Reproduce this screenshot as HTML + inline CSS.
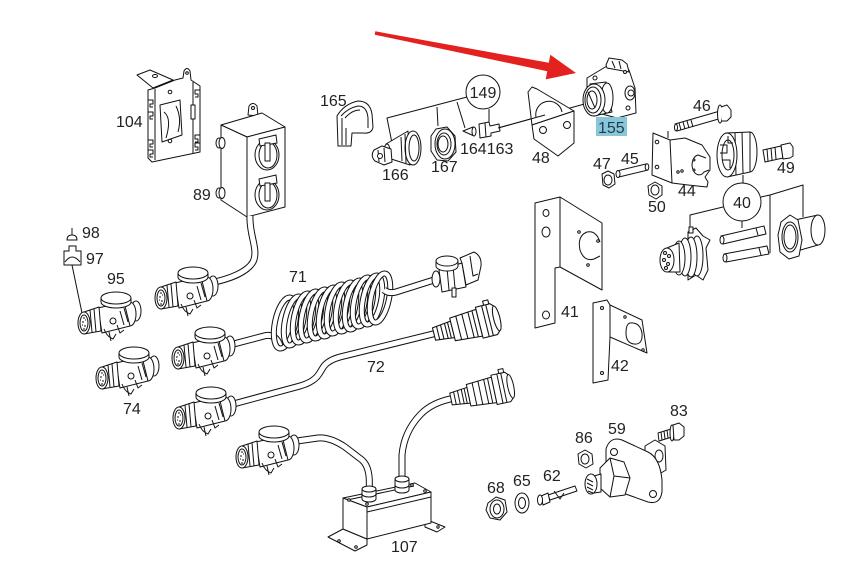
<!DOCTYPE html>
<html><head><meta charset="utf-8"><style>
html,body{margin:0;padding:0;background:#fff;}
svg{display:block;}
text{font-family:"Liberation Sans",sans-serif;font-size:16px;fill:#222;}
</style></head><body>
<svg width="857" height="565" viewBox="0 0 857 565" xmlns="http://www.w3.org/2000/svg">
<defs>
<g id="plug" stroke="#111" stroke-width="1" fill="#fff" stroke-linejoin="round">
  <ellipse cx="52" cy="-12" rx="5" ry="10"/>
  <ellipse cx="46" cy="-9" rx="6" ry="12"/>
  <path d="M14,-15 L40,-21 L46,3 L18,10 Z"/>
  <path d="M36,-12 l4,14 M40,-15 l4,14" fill="none"/>
  <path d="M17,-25 L17,-21 A15,6 0 0 0 47,-21 L47,-25"/>
  <ellipse cx="32" cy="-25" rx="15" ry="6"/>
  <path d="M0,-11 L15,-16 L17,8 L0,11 Z"/>
  <path d="M6,-13 L8,9 M10,-14 L12,9" fill="none"/>
  <circle cx="29" cy="-2" r="3"/>
  <path d="M20,6 q3,8 9,10 l3,-5 M25,9 l2,9 M33,2 l3,8 l4,-3" fill="none"/>
  <ellipse cx="0" cy="0" rx="6" ry="11"/>
  <ellipse cx="0" cy="0" rx="4" ry="8"/>
  <path d="M-1,-5h2M-2,-1h2M0,3h2M1,-3h1M-1,6h2M-2,2h1" fill="none"/>
</g>
<g id="rplug" stroke="#111" stroke-width="1" fill="#fff" stroke-linejoin="round">
  <path d="M0,-6 L18,-8 L18,8 L0,6 Z"/>
  <path d="M4,-6.5v13M8,-7v14M12,-7.5v15M15,-7.5v15" fill="none"/>
  <path d="M18,-11 L44,-13 L44,13 L18,11 Z"/>
  <path d="M24,-11.5v23M30,-12v24M36,-12.5v25M40,-12.5v25" fill="none"/>
  <path d="M44,-15 L58,-15 L61,-12 L61,12 L58,15 L44,15 Z"/>
  <path d="M50,-15v30M54,-15v30" fill="none"/>
  <rect x="52" y="-19" width="5" height="4"/>
  <ellipse cx="61" cy="0" rx="3" ry="12"/>
</g>
</defs>

<!-- ===== Red arrow ===== -->
<polygon points="375.3,31.3 548.8,62.8 550.3,54.8 576,73 545.7,79.4 547.2,71.2 374.7,34.7" fill="#e3221f"/>

<!-- ===== Bracket 104 ===== -->
<g fill="#fff" stroke="#111" stroke-width="1" stroke-linejoin="round">
  <path d="M148,90 L155,88 L175,80 L183,78 L184,71 Q187,66 190,71 L191,80 L200,86 L200,152 L152,162 L148,158 Z"/>
  <path d="M137,75 L150,70 L173,80 L153,88 Z"/>
  <ellipse cx="155" cy="76" rx="2.5" ry="1.5"/>
  <circle cx="187" cy="73" r="1.3"/>
  <path d="M155,89 L155,160 M193,82 L193,153" fill="none"/>
  <path d="M148,100 h5 v4 h-3 v3 h3 M148,112 h5 v4 h-3 v3 h3 M148,140 h5 v4 h-3 v3 h3 M148,150 h5 v4 h-3 v3 h3" fill="none"/>
  <path d="M200,90 h-5 v4 h3 v3 h-3 M200,135 h-5 v4 h3 v3 h-3 M200,143 h-5 v4 h3 v3 h-3" fill="none"/>
  <rect x="191" y="105" width="4" height="14"/>
  <path d="M160,105 L180,100 L182,135 L162,142 Z"/>
  <path d="M164,112 Q172,118 166,138 M176,106 Q182,118 178,132" fill="none"/>
  <circle cx="170" cy="92" r="1.8"/>
  <circle cx="170" cy="141" r="1.8"/>
</g>

<!-- ===== Box 89 ===== -->
<g fill="#fff" stroke="#111" stroke-width="1" stroke-linejoin="round">
  <path d="M248,115 L249,106 Q253,101 257,106 L258,116 Z"/>
  <circle cx="253" cy="108" r="1.5"/>
  <path d="M221,125 L262,113 L285,127 L247,137 Z"/>
  <path d="M221,125 L247,137 L247,217 L221,200 Z"/>
  <path d="M247,137 L285,127 L285,207 L247,217 Z"/>
  <ellipse cx="219" cy="143" rx="3" ry="5"/>
  <ellipse cx="222" cy="143" rx="3" ry="5.5"/>
  <ellipse cx="219" cy="193" rx="3" ry="5"/>
  <ellipse cx="222" cy="193" rx="3" ry="5.5"/>
  <ellipse cx="267" cy="155" rx="12" ry="15"/>
  <ellipse cx="268" cy="155" rx="9" ry="13"/>
  <path d="M259,139 L276,135 L277,143 L260,146 Z"/>
  <rect x="265" y="143" width="5" height="18"/>
  <ellipse cx="267" cy="195" rx="12" ry="15"/>
  <ellipse cx="268" cy="195" rx="9" ry="13"/>
  <path d="M259,179 L276,175 L277,183 L260,186 Z"/>
  <rect x="265" y="183" width="5" height="18"/>
</g>

<!-- ===== Cables ===== -->
<g fill="none" stroke-linecap="butt" stroke-linejoin="round">
  <path id="c89" d="M250,216 C249,235 259,250 253,262 C247,272 230,279 210,283" stroke="#111" stroke-width="7"/>
  <path d="M250,216 C249,235 259,250 253,262 C247,272 230,279 210,283" stroke="#fff" stroke-width="5"/>
  <path d="M226,346 L264,336 Q276,333 280,346" stroke="#111" stroke-width="7"/>
  <path d="M226,346 L264,336 Q276,333 280,346" stroke="#fff" stroke-width="5"/>
  <path d="M226,406 L300,386 Q314,382 319,374 L324,366 Q329,360 340,357 L437,333" stroke="#111" stroke-width="7"/>
  <path d="M226,406 L300,386 Q314,382 319,374 L324,366 Q329,360 340,357 L437,333" stroke="#fff" stroke-width="5"/>
  <path d="M290,442 L318,438 Q330,437 345,447 L362,460 Q371,468 369,490" stroke="#111" stroke-width="7"/>
  <path d="M290,442 L318,438 Q330,437 345,447 L362,460 Q371,468 369,490" stroke="#fff" stroke-width="5"/>
  <path d="M402,486 L402,455 Q404,432 420,415 Q432,402 455,398" stroke="#111" stroke-width="7"/>
  <path d="M402,486 L402,455 Q404,432 420,415 Q432,402 455,398" stroke="#fff" stroke-width="5"/>
</g>

<!-- ===== Coil 71 ===== -->
<g fill="none">
  <g stroke="#111" stroke-width="6"><ellipse cx="285" cy="323" rx="10" ry="26" transform="rotate(12 285 323)"/></g>
  <g stroke="#fff" stroke-width="4"><ellipse cx="285" cy="323" rx="10" ry="26" transform="rotate(12 285 323)"/></g>
  <ellipse cx="294" cy="321" rx="9" ry="25" transform="rotate(12 294 321)" stroke="#111" stroke-width="6"/>
  <ellipse cx="294" cy="321" rx="9" ry="25" transform="rotate(12 294 321)" stroke="#fff" stroke-width="4"/>
  <ellipse cx="303" cy="318" rx="9" ry="25" transform="rotate(12 303 318)" stroke="#111" stroke-width="6"/>
  <ellipse cx="303" cy="318" rx="9" ry="25" transform="rotate(12 303 318)" stroke="#fff" stroke-width="4"/>
  <ellipse cx="311" cy="316" rx="9" ry="25" transform="rotate(12 311 316)" stroke="#111" stroke-width="6"/>
  <ellipse cx="311" cy="316" rx="9" ry="25" transform="rotate(12 311 316)" stroke="#fff" stroke-width="4"/>
  <ellipse cx="320" cy="314" rx="9" ry="25" transform="rotate(12 320 314)" stroke="#111" stroke-width="6"/>
  <ellipse cx="320" cy="314" rx="9" ry="25" transform="rotate(12 320 314)" stroke="#fff" stroke-width="4"/>
  <ellipse cx="329" cy="312" rx="9" ry="25" transform="rotate(12 329 312)" stroke="#111" stroke-width="6"/>
  <ellipse cx="329" cy="312" rx="9" ry="25" transform="rotate(12 329 312)" stroke="#fff" stroke-width="4"/>
  <ellipse cx="337" cy="309" rx="9" ry="25" transform="rotate(12 337 309)" stroke="#111" stroke-width="6"/>
  <ellipse cx="337" cy="309" rx="9" ry="25" transform="rotate(12 337 309)" stroke="#fff" stroke-width="4"/>
  <ellipse cx="346" cy="307" rx="9" ry="25" transform="rotate(12 346 307)" stroke="#111" stroke-width="6"/>
  <ellipse cx="346" cy="307" rx="9" ry="25" transform="rotate(12 346 307)" stroke="#fff" stroke-width="4"/>
  <ellipse cx="355" cy="305" rx="9" ry="25" transform="rotate(12 355 305)" stroke="#111" stroke-width="6"/>
  <ellipse cx="355" cy="305" rx="9" ry="25" transform="rotate(12 355 305)" stroke="#fff" stroke-width="4"/>
  <ellipse cx="363" cy="302" rx="9" ry="25" transform="rotate(12 363 302)" stroke="#111" stroke-width="6"/>
  <ellipse cx="363" cy="302" rx="9" ry="25" transform="rotate(12 363 302)" stroke="#fff" stroke-width="4"/>
  <ellipse cx="372" cy="300" rx="9" ry="25" transform="rotate(12 372 300)" stroke="#111" stroke-width="6"/>
  <ellipse cx="372" cy="300" rx="9" ry="25" transform="rotate(12 372 300)" stroke="#fff" stroke-width="4"/>
  <ellipse cx="380" cy="298" rx="9" ry="25" transform="rotate(12 380 298)" stroke="#111" stroke-width="6"/>
  <ellipse cx="380" cy="298" rx="9" ry="25" transform="rotate(12 380 298)" stroke="#fff" stroke-width="4"/>
  <path d="M384,290 Q389,294 396,292 L434,280" stroke="#111" stroke-width="7"/>
  <path d="M384,290 Q389,294 396,292 L434,280" stroke="#fff" stroke-width="5"/>
</g>

<!-- ===== Plugs ===== -->
<use href="#plug" transform="translate(84,323)"/>
<use href="#plug" transform="translate(102,378)"/>
<use href="#plug" transform="translate(161,298)"/>
<use href="#plug" transform="translate(178,358)"/>
<use href="#plug" transform="translate(179,418)"/>
<use href="#plug" transform="translate(242,457)"/>

<!-- plug 71 right -->
<g fill="#fff" stroke="#111" stroke-width="1" stroke-linejoin="round">
  <ellipse cx="436" cy="279" rx="4" ry="8"/>
  <path d="M439,270 L462,263 L466,287 L442,292 Z"/>
  <path d="M447,268 l2,22 M453,266 l2,22" fill="none"/>
  <path d="M460,258 L474,252 Q482,256 481,266 L478,280 L466,285 L462,263 Z"/>
  <path d="M470,256 l3,20 l5,-2" fill="none"/>
  <path d="M436,261 L436,266 A11,5 0 0 0 458,266 L458,261"/>
  <ellipse cx="447" cy="261" rx="11" ry="5"/>
  <rect x="452" y="288" width="4" height="9"/>
</g>

<!-- plug 72 right & 107 right -->
<use href="#rplug" transform="translate(434,334) rotate(-14) scale(1.06)"/>
<use href="#rplug" transform="translate(451,399) rotate(-12) scale(1.0)"/>

<!-- ===== Box 107 ===== -->
<g fill="#fff" stroke="#111" stroke-width="1" stroke-linejoin="round">
  <path d="M328,537 L343,529 L367,539 L367,545 L355,551 Z"/>
  <path d="M425,519 L445,527 L437,532 L425,527 Z"/>
  <path d="M343,498 L415,483 L431,492 L367,507 Z"/>
  <path d="M343,498 L367,507 L367,539 L343,529 Z"/>
  <path d="M367,507 L431,492 L431,523 L367,539 Z"/>
  <path d="M347,500 L414,486 M367,512 L431,497" fill="none"/>
  <circle cx="349" cy="500" r="1.3"/><circle cx="367" cy="504" r="1.3"/><circle cx="425" cy="491" r="1.3"/><circle cx="412" cy="485" r="1.3"/>
  <circle cx="339" cy="541" r="1.3"/><circle cx="356" cy="547" r="1.3"/><circle cx="438" cy="527" r="1.2"/>
  <path d="M362,489 L362,499 A7,3 0 0 0 376,499 L376,489"/>
  <ellipse cx="369" cy="489" rx="7" ry="3"/>
  <path d="M362,494 A7,3 0 0 0 376,494" fill="none"/>
  <path d="M395,479 L395,490 A7,3 0 0 0 409,490 L409,479"/>
  <ellipse cx="402" cy="479" rx="7" ry="3"/>
  <path d="M395,485 A7,3 0 0 0 409,485" fill="none"/>
</g>

<!-- ===== 98 / 97 ===== -->
<g fill="#fff" stroke="#111" stroke-width="1">
  <path d="M72,228 L72,235 M67,240 Q67,235 72,235 Q77,235 77,240 Z"/>
  <path d="M64,251 L69,251 L69,246 L76,246 L76,251 L81,251 L81,265 L64,265 Z"/>
  <path d="M65,262 Q72,252 80,262" fill="none"/>
  <path d="M72,265 L82,313" fill="none"/>
</g>

<!-- ===== 165 / 166 / 167 / 164 / 163 / 149 ===== -->
<g fill="#fff" stroke="#111" stroke-width="1" stroke-linejoin="round">
  <path d="M338,146 L337,116 Q344,104 358,101 Q370,101 372,114 L373,127 Q372,134 363,133 L352,133 L351,146 Z"/>
  <path d="M341,116 Q348,108 358,106 Q367,106 368,118 L368,128" fill="none"/>
  <path d="M345,118 Q352,110 360,110 M346,128 L346,145 M342,118 L342,145" fill="none"/>
  <!-- leaders -->
  <path d="M467,97 L387,118 L392,143 M437,107 L438,126 M457,102 L465,128 M489,109 L489,122" fill="none"/>
  <path d="M498,128 L588,103" fill="none"/>
  <!-- 166 -->
  <path d="M386,144 L408,131 L410,165 L388,158 Z"/>
  <ellipse cx="413" cy="148" rx="8" ry="17"/>
  <ellipse cx="414" cy="148" rx="5" ry="13"/>
  <path d="M405,134 L406,163 M401,137 L402,161" fill="none"/>
  <ellipse cx="387" cy="151" rx="3" ry="7"/>
  <path d="M374,150 Q370,156 375,161 L384,165 L392,162 L391,149 L382,146 Z"/>
  <path d="M378,150 l1,12 M384,148 l1,14" fill="none"/>
  <circle cx="380" cy="156" r="2.5"/>
  <!-- 167 -->
  <path d="M436,129 L447,127 L455,136 L456,152 L448,161 L437,160 L431,151 L431,136 Z"/>
  <ellipse cx="445" cy="144" rx="10" ry="15"/>
  <ellipse cx="444" cy="144" rx="7" ry="11"/>
  <ellipse cx="443" cy="144" rx="5" ry="8"/>
  <!-- 164 -->
  <path d="M463,131 L473,127 L474,136 Z"/>
  <ellipse cx="474" cy="131.5" rx="2" ry="4.5"/>
  <!-- 163 -->
  <path d="M479,124 L489,122 L490,126 L499,124 L500,131 L491,133 L491,136 L480,138 Z"/>
  <path d="M485,123 l1,14" fill="none"/>
  <!-- 149 circle -->
  <circle cx="483" cy="92" r="17"/>
</g>

<!-- ===== 48 bracket ===== -->
<g fill="#fff" stroke="#111" stroke-width="1" stroke-linejoin="round">
  <path d="M528,92 L532,87 L537,89 L574,111 L532,125 Z"/>
  <path d="M536,117 A12,12 0 1 1 562,112" fill="none"/>
  <path d="M532,125 L574,111 L574,143 L558,156 L534,139 Z"/>
  <circle cx="543" cy="130" r="3.5"/>
  <circle cx="567" cy="125" r="3.5"/>
  <path d="M498,128 L545,115" fill="none"/>
</g>

<!-- ===== 155 ===== -->
<g fill="#fff" stroke="#111" stroke-width="1" stroke-linejoin="round">
  <path d="M587,78 L607,66 L629,70 L635,88 L636,113 L617,118 L587,110 Z"/>
  <path d="M606,65 L609,58 L622,60 L627,64 L629,72 L607,68 Z"/>
  <path d="M612,61 l3,7 M619,61 l2,8" fill="none"/>
  <circle cx="595" cy="78" r="2"/><circle cx="628" cy="108" r="2"/><circle cx="625" cy="72" r="1.5"/>
  <ellipse cx="630" cy="93" rx="5" ry="7"/>
  <circle cx="631" cy="93" r="3"/>
  <path d="M590,84 L606,82 L612,112 L594,116 Z"/>
  <ellipse cx="607" cy="98" rx="6" ry="15"/>
  <ellipse cx="594" cy="100" rx="11" ry="16"/>
  <ellipse cx="593" cy="100" rx="8" ry="13"/>
  <ellipse cx="592" cy="100" rx="5" ry="9"/>
  <path d="M588,92 l7,16" fill="none"/>
</g>
<rect x="596" y="117" width="31" height="19" fill="#8ac6d9"/>

<!-- ===== 46 bolt ===== -->
<g fill="#fff" stroke="#111" stroke-width="1" stroke-linejoin="round">
  <path d="M675,124 L720,111 L722,118 L677,131 Z"/>
  <path d="M679,123 l2,7 M683,122 l2,7 M687,121 l2,7 M691,120 l2,7" fill="none"/>
  <ellipse cx="676" cy="127.5" rx="1.5" ry="3.5"/>
  <ellipse cx="720" cy="114" rx="2.5" ry="9"/>
  <path d="M721,107 L727,105 L731,110 L731,117 L727,121 L722,121"/>
  <path d="M668,131 L668,138" fill="none"/>
</g>

<!-- ===== 44 bracket ===== -->
<g fill="#fff" stroke="#111" stroke-width="1" stroke-linejoin="round">
  <path d="M653,133 L670,140 L685,138 L702,145 L710,157 L710,170 L705,177 L708,182 L707,187 L688,185 L672,183 L652,175 Z"/>
  <path d="M670,140 L672,183" fill="none"/>
  <circle cx="657" cy="142" r="1.8"/><circle cx="657" cy="167" r="1.8"/>
  <circle cx="678" cy="172" r="1.2"/><circle cx="682" cy="171" r="1.2"/>
  <path d="M706,158 L698,155 A7,10 0 1 0 704,172 L709,170" />
  <circle cx="694" cy="160" r="1"/><circle cx="694" cy="170" r="1"/>
</g>

<!-- ===== 47 45 50 ===== -->
<g fill="#fff" stroke="#111" stroke-width="1" stroke-linejoin="round">
  <path d="M602,174 L608,171 L614,174 L615,184 L609,188 L603,185 Z"/>
  <ellipse cx="608" cy="180" rx="4" ry="5"/>
  <path d="M617,171 L646,164 L648,170 L619,177 Z"/>
  <ellipse cx="618" cy="174" rx="2" ry="3.5"/>
  <ellipse cx="647" cy="167" rx="1.8" ry="3.2"/>
  <path d="M648,186 L655,182 L662,186 L662,195 L656,199 L649,195 Z"/>
  <ellipse cx="655" cy="190" rx="4" ry="5"/>
</g>

<!-- ===== cap near 44 & 49 ===== -->
<g fill="#fff" stroke="#111" stroke-width="1" stroke-linejoin="round">
  <ellipse cx="750" cy="152" rx="7" ry="20"/>
  <path d="M726,133 L750,132 L750,172 L727,177 Z"/>
  <path d="M735,133 l1,42 M742,132 l1,41" fill="none"/>
  <ellipse cx="727" cy="155" rx="10" ry="22"/>
  <ellipse cx="728" cy="155" rx="6" ry="15"/>
  <path d="M720,145 h7 v8 h-7 M722,160 h8 v8 M728,136 v7 h5" fill="none"/>
  <path d="M743,175 L743,183" fill="none"/>
  <path d="M763,150 L781,146 L783,158 L765,162 Z"/>
  <path d="M767,149 l1,12 M771,148 l1,12 M775,147 l1,12" fill="none"/>
  <path d="M781,145 L790,143 L793,147 L793,156 L790,158 L783,159 Z"/>
</g>

<!-- ===== 40 group ===== -->
<g fill="#fff" stroke="#111" stroke-width="1" stroke-linejoin="round">
  <path d="M723,207 L690,215 L690,228 M742,221 L742,228 M761,197 L770,195 L803,185 L803,217 M770,195 L770,253" fill="none"/>
  <circle cx="742" cy="202" r="19"/>
  <!-- socket -->
  <path d="M688,232 L696,228 L703,236 L710,240 L706,248 L708,270 L703,280 L696,275 L688,280 Z"/>
  <ellipse cx="697" cy="256" rx="6" ry="20"/>
  <ellipse cx="691" cy="257" rx="6" ry="20"/>
  <ellipse cx="685" cy="257" rx="6" ry="19"/>
  <ellipse cx="679" cy="258" rx="6" ry="17"/>
  <path d="M667,248 L679,243 L680,272 L668,272 Z"/>
  <ellipse cx="667" cy="260" rx="7" ry="12"/>
  <circle cx="665" cy="253" r="1.5"/><circle cx="669" cy="256" r="1.5"/><circle cx="664" cy="260" r="1.5"/><circle cx="668" cy="264" r="1.5"/><circle cx="666" cy="268" r="1.5"/>
  <rect x="689" y="227" width="4" height="6"/>
  <!-- pins -->
  <path d="M721,236 L764,226 L766,234 L723,244 Z"/>
  <ellipse cx="722" cy="240" rx="2" ry="4"/>
  <path d="M756,228 l2,7" fill="none"/>
  <path d="M724,254 L767,246 L769,254 L726,262 Z"/>
  <ellipse cx="725" cy="258" rx="2" ry="4"/>
  <path d="M759,248 l2,7" fill="none"/>
  <!-- cap piece -->
  <path d="M790,221 L818,215 L818,245 L790,253 Z"/>
  <ellipse cx="818" cy="230" rx="7" ry="15"/>
  <path d="M781,222 L790,215 L798,220 L802,240 L799,256 L789,259 L780,252 L778,235 Z"/>
  <ellipse cx="790" cy="237" rx="8" ry="15"/>
  <ellipse cx="790" cy="237" rx="6" ry="12"/>
</g>

<!-- ===== 41 bracket ===== -->
<g fill="#fff" stroke="#111" stroke-width="1" stroke-linejoin="round">
  <path d="M535,203 L560,197 L602,223 L602,290 L560,267 L555,268 L555,323 L535,328 Z"/>
  <path d="M560,197 L560,267" fill="none"/>
  <ellipse cx="546" cy="213" rx="3" ry="3.5"/>
  <ellipse cx="546" cy="232" rx="4" ry="5"/>
  <ellipse cx="546" cy="315" rx="3.5" ry="4"/>
  <path d="M600,242 Q596,230 587,232 Q577,236 580,250 Q584,262 594,259 L600,256" fill="none"/>
  <circle cx="579" cy="232" r="1.3"/><circle cx="598" cy="241" r="1.3"/><circle cx="588" cy="265" r="1.3"/>
</g>

<!-- ===== 42 bracket ===== -->
<g fill="#fff" stroke="#111" stroke-width="1" stroke-linejoin="round">
  <path d="M593,303 L607,300 L610,305 L642,320 L647,353 L610,337 L608,380 L593,383 Z"/>
  <path d="M610,305 L610,337" fill="none"/>
  <path d="M630,323 Q640,322 642,333 Q643,345 634,344 Q626,343 626,333 Q626,324 630,323 Z"/>
  <circle cx="602" cy="308" r="1.5"/><circle cx="602" cy="373" r="1.5"/><circle cx="625" cy="317" r="1.2"/><circle cx="643" cy="350" r="1.2"/>
</g>

<!-- ===== 59 group ===== -->
<g fill="#fff" stroke="#111" stroke-width="1" stroke-linejoin="round">
  <path d="M645,446 L655,440 L665,446 L666,470 L656,476 L645,470 Z"/>
  <ellipse cx="659" cy="456" rx="4" ry="6"/>
  <path d="M606,449 Q610,436 622,440 L648,452 Q660,458 662,480 L662,492 Q660,505 648,502 L620,492 Q606,486 606,470 Z"/>
  <circle cx="614" cy="452" r="3.5"/><circle cx="653" cy="494" r="3.5"/>
  <path d="M600,468 L610,458 L624,462 L630,478 L625,495 L610,497 L600,488 Z"/>
  <path d="M610,458 L614,476 L610,497 M614,476 L630,478" fill="none"/>
  <path d="M594,476 L601,474 L601,492 L594,493 Z"/>
  <ellipse cx="591" cy="484" rx="6" ry="10"/>
  <path d="M587,479 l6,3 M587,483 l6,3 M587,487 l6,3 M588,491 l5,2" fill="none"/>
  <!-- 83 -->
  <path d="M658,433 L671,429 L672,437 L659,441 Z"/>
  <path d="M661,432 l1,8 M664,431 l1,8 M667,430 l1,8" fill="none"/>
  <ellipse cx="672" cy="433" rx="2" ry="8"/>
  <path d="M673,425 L679,423 L684,427 L684,436 L679,440 L674,440 Z"/>
  <!-- 86 -->
  <path d="M578,454 L585,450 L592,454 L593,464 L586,468 L579,464 Z"/>
  <ellipse cx="585" cy="459" rx="4" ry="5"/>
  <!-- 62 -->
  <path d="M548,495 L575,486 L577,491 L550,500 Z"/>
  <path d="M554,491 l6,8 l4,-6" fill="none"/>
  <path d="M541,496 L548,493 L550,502 L543,505 Z"/>
  <ellipse cx="540" cy="500" rx="2.5" ry="5"/>
  <!-- 65 -->
  <ellipse cx="522" cy="503" rx="7" ry="10"/>
  <ellipse cx="522" cy="503" rx="3.5" ry="5.5"/>
  <!-- 68 -->
  <path d="M488,503 L496,497 L505,500 L507,512 L500,520 L490,518 L486,510 Z"/>
  <ellipse cx="497" cy="509" rx="7" ry="9"/>
  <ellipse cx="497" cy="509" rx="3.5" ry="5"/>
</g>

<!-- ===== Labels ===== -->
<text x="116" y="127">104</text>
<text x="193" y="200">89</text>
<text x="82" y="238">98</text>
<text x="86" y="264">97</text>
<text x="107" y="284">95</text>
<text x="123" y="414">74</text>
<text x="320" y="106">165</text>
<text x="382" y="180">166</text>
<text x="431" y="172">167</text>
<text x="483" y="98" text-anchor="middle">149</text>
<text x="460" y="154">164163</text>
<text x="532" y="163">48</text>
<text x="598" y="133" style="fill:#1d3d4d">155</text>
<text x="693" y="111">46</text>
<text x="593" y="169">47</text>
<text x="621" y="164">45</text>
<text x="648" y="212">50</text>
<text x="678" y="196">44</text>
<text x="777" y="173">49</text>
<text x="742" y="208" text-anchor="middle">40</text>
<text x="561" y="317">41</text>
<text x="611" y="371">42</text>
<text x="289" y="282">71</text>
<text x="367" y="372">72</text>
<text x="391" y="552">107</text>
<text x="575" y="443">86</text>
<text x="608" y="434">59</text>
<text x="670" y="416">83</text>
<text x="487" y="493">68</text>
<text x="513" y="486">65</text>
<text x="543" y="481">62</text>
</svg>
</body></html>
